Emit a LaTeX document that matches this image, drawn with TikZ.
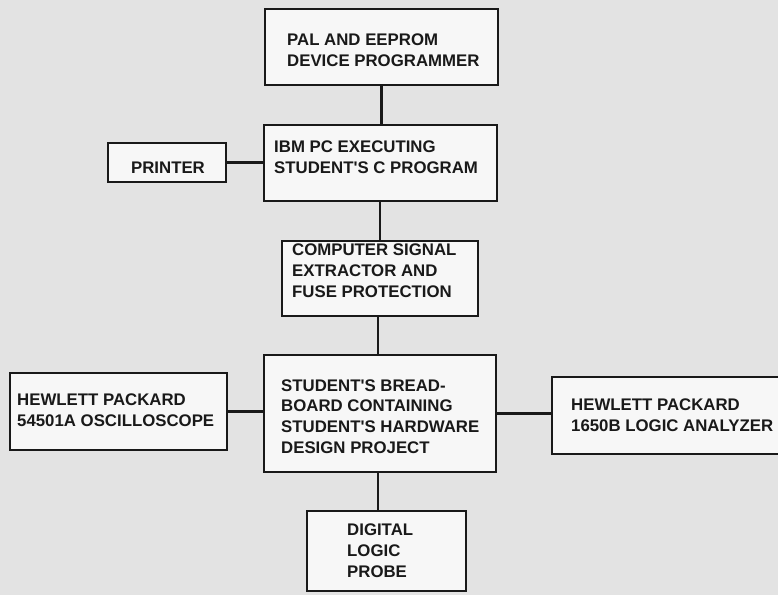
\documentclass[tikz,border=0pt]{standalone}
\usepackage{fontspec}
\setmainfont{Liberation Sans}
\newcommand{\apos}{\textquotesingle}
\begin{document}
\begin{tikzpicture}[x=1pt,y=-1pt,
  unit/.style={draw=black!90, line width=2.7pt, fill=white!94!gray, inner sep=0pt},
  lbl/.style={anchor=west, align=left, inner sep=0pt, text=black!90,
    font=\fontsize{16.8}{20.8}\selectfont\bfseries},
  wire/.style={draw=black!90, line width=2.7pt}]
% paper
\fill[black!11] (0,0) rectangle (778,595);
\useasboundingbox (0,0) rectangle (778,595);
\begin{scope}
\clip (0,0) rectangle (778,595);
% boxes: centre, width, height
\node[unit, minimum width=233pt, minimum height=76pt] (pal) at (381.5,47) {};
\node[unit, minimum width=233pt, minimum height=76pt] (ibm) at (380.5,163) {};
\node[unit, minimum width=118pt, minimum height=39pt] (printer) at (167,162.5) {};
\node[unit, minimum width=196pt, minimum height=75pt] (signal) at (380,278.5) {};
\node[unit, minimum width=232pt, minimum height=117pt] (board) at (380,413.5) {};
\node[unit, minimum width=217pt, minimum height=77pt] (osc) at (118.5,411.5) {};
\node[unit, minimum width=232pt, minimum height=77pt] (la) at (668,415.5) {};
\node[unit, minimum width=159pt, minimum height=80pt] (probe) at (386.5,551) {};
% labels
\node[lbl] (palt) at (287,50) {PAL AND EEPROM\\DEVICE PROGRAMMER};
\node[lbl] (ibmt) at (274,157.5) {IBM PC EXECUTING\\STUDENT\apos S C PROGRAM};
\node[lbl, anchor=center] (printert) at (168,168) {PRINTER};
\node[lbl] (signalt) at (292,271) {COMPUTER SIGNAL\\EXTRACTOR AND\\FUSE PROTECTION};
\node[lbl] (boardt) at (281,416.5) {STUDENT\apos S BREAD-\\BOARD CONTAINING\\STUDENT\apos S HARDWARE\\DESIGN PROJECT};
\node[lbl] (osct) at (17,410.5) {HEWLETT PACKARD\\54501A OSCILLOSCOPE};
\node[lbl] (lat) at (571,415) {HEWLETT PACKARD\\1650B LOGIC ANALYZER};
\node[lbl] (probet) at (347,551) {DIGITAL\\LOGIC\\PROBE};
% connections
\draw[wire] (pal.south) -- (pal.south |- ibm.north);
\draw[wire] (printer.east) -- (printer.east -| ibm.west);
\draw[wire] (ibm.south -| signal.north) -- (signal.north);
\draw[wire] ([xshift=-2pt]signal.south) -- ([xshift=-2pt]signal.south |- board.north);
\draw[wire] (osc.east) -- (osc.east -| board.west);
\draw[wire] (board.east) -- (board.east -| la.west);
\draw[wire] ([xshift=-2pt]board.south) -- ([xshift=-2pt]board.south |- probe.north);
\end{scope}
\end{tikzpicture}
\end{document}
